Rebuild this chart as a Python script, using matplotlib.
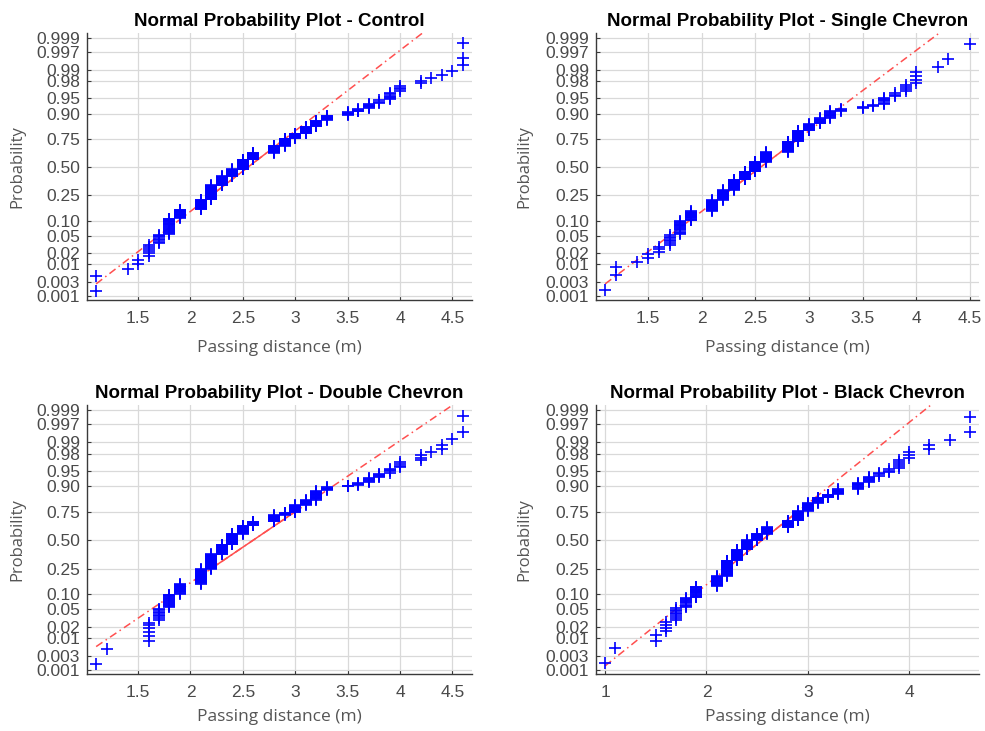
import numpy as np
import matplotlib
matplotlib.use('Agg')
import matplotlib.pyplot as plt
from statistics import NormalDist

# passing distances (m) and how many passes were recorded at each one
control_dist = [1.1, 1.4, 1.5, 1.6, 1.7, 1.8, 1.9, 2.1, 2.2, 2.3, 2.4, 2.5, 2.6, 2.8, 2.9,
                3.0, 3.1, 3.2, 3.3, 3.5, 3.6, 3.7, 3.8, 3.9, 4.0, 4.2, 4.3, 4.4, 4.5, 4.6]
control_count = [2, 1, 2, 6, 7, 19, 15, 21, 38, 27, 22, 31, 21, 20, 20,
                 12, 15, 11, 8, 5, 4, 6, 3, 6, 4, 2, 1, 1, 1, 3]

single_dist = [1.1, 1.2, 1.4, 1.5, 1.6, 1.7, 1.8, 1.9, 2.1, 2.2, 2.3, 2.4, 2.5, 2.6, 2.8,
               2.9, 3.0, 3.1, 3.2, 3.3, 3.5, 3.6, 3.7, 3.8, 3.9, 4.0, 4.2, 4.3, 4.5]
single_count = [1, 2, 1, 2, 3, 7, 14, 14, 21, 23, 27, 23, 28, 27, 27,
                24, 12, 9, 9, 3, 2, 2, 6, 3, 4, 4, 1, 1, 1]

double_dist = [1.1, 1.2, 1.6, 1.7, 1.8, 1.9, 2.1, 2.2, 2.3, 2.4, 2.5, 2.6, 2.8, 2.9, 3.0,
               3.1, 3.2, 3.3, 3.5, 3.6, 3.7, 3.8, 3.9, 4.0, 4.2, 4.3, 4.4, 4.5, 4.6]
double_count = [1, 1, 6, 8, 14, 15, 29, 37, 27, 30, 23, 11, 16, 6, 16,
                10, 15, 5, 2, 3, 5, 4, 4, 4, 3, 1, 2, 1, 2]

black_dist = [1.0, 1.1, 1.5, 1.6, 1.7, 1.8, 1.9, 2.1, 2.2, 2.3, 2.4, 2.5, 2.6, 2.8, 2.9,
              3.0, 3.1, 3.2, 3.3, 3.5, 3.6, 3.7, 3.8, 3.9, 4.0, 4.2, 4.4, 4.6]
black_count = [1, 1, 2, 4, 8, 9, 15, 18, 35, 28, 26, 18, 18, 17, 23,
               16, 10, 5, 8, 8, 6, 3, 3, 5, 3, 2, 1, 2]

titles = ['Control', 'Single Chevron', 'Double Chevron', 'Black Chevron']
prob_ticks = [0.001, 0.003, 0.01, 0.02, 0.05, 0.10, 0.25, 0.50,
              0.75, 0.90, 0.95, 0.98, 0.99, 0.997, 0.999]
prob_labels = ['0.001', '0.003', '0.01', '0.02', '0.05', '0.10', '0.25', '0.50',
               '0.75', '0.90', '0.95', '0.98', '0.99', '0.997', '0.999']

ND = NormalDist()
RED = '#ff4f4f'
GREY = '#4a4a4a'


def prob_to_z(p):
    p = np.clip(np.asarray(p, dtype=float), 1e-12, 1 - 1e-12)
    return np.array([ND.inv_cdf(v) for v in p.ravel()]).reshape(p.shape)


def z_to_prob(z):
    z = np.asarray(z, dtype=float)
    return np.array([ND.cdf(v) for v in z.ravel()]).reshape(z.shape)


def normplot(ax, dist, count, title, xticks):
    x = np.sort(np.repeat(dist, count))
    n = len(x)
    p = (np.arange(1, n + 1) - 0.5) / n
    ax.set_yscale('function', functions=(prob_to_z, z_to_prob))

    # reference line through the quartiles, extended over the data range
    q1, q3 = np.percentile(x, [25, 75], method='hazen')
    z1, z3 = prob_to_z([0.25, 0.75])
    slope = (z3 - z1) / (q3 - q1)
    xe = np.array([x.min(), x.max()])
    pe = z_to_prob(z1 + slope * (xe - q1))
    ax.plot(xe, pe, color=RED, lw=1.1, ls=(0, (5, 2.5, 1, 2.5)), zorder=2)
    ax.plot([q1, q3], [0.25, 0.75], color=RED, lw=1.1, zorder=2)

    ax.plot(x, p, '+', color='#0000ff', ms=8.5, mew=1.2, zorder=3)

    rng = x.max() - x.min()
    ax.set_xlim(x.min() - 0.025 * rng, x.max() + 0.025 * rng)
    ax.set_ylim(z_to_prob(-3.18), z_to_prob(3.21))
    ax.set_yticks(prob_ticks, labels=prob_labels)
    ax.set_xticks(xticks, labels=[f'{v:g}' for v in xticks])
    ax.minorticks_off()

    ax.grid(True, color='#d9d9d9', lw=0.9)
    ax.set_axisbelow(True)
    for s in ['top', 'right']:
        ax.spines[s].set_visible(False)
    for s in ['left', 'bottom']:
        ax.spines[s].set_color('#3a3a3a')
        ax.spines[s].set_linewidth(1.0)
    ax.tick_params(direction='in', length=3, width=0.8, color='#3a3a3a',
                   labelcolor=GREY, labelsize=12.5)
    ax.tick_params(axis='x', pad=8)
    ax.tick_params(axis='y', pad=5)
    for lab in ax.get_xticklabels() + ax.get_yticklabels():
        lab.set_family('Liberation Sans')

    ax.set_title('Normal Probability Plot - ' + title, fontsize=13.5,
                 fontweight='bold', family='Liberation Sans', pad=5)
    ax.set_xlabel('Passing distance (m)', fontsize=12.5, color='#555555',
                  family='Open Sans')
    ax.set_ylabel('Probability', fontsize=12, color='#555555',
                  family='Open Sans')


fig = plt.figure(figsize=(9.85, 7.31), dpi=100)
ax1 = fig.add_axes([0.0883, 0.5896, 0.3909, 0.3653])
ax2 = fig.add_axes([0.6051, 0.5896, 0.3888, 0.3653])
ax3 = fig.add_axes([0.0883, 0.0780, 0.3909, 0.3680])
ax4 = fig.add_axes([0.6051, 0.0780, 0.3888, 0.3680])

half_ticks = [1.5, 2, 2.5, 3, 3.5, 4, 4.5]
normplot(ax1, control_dist, control_count, titles[0], half_ticks)
normplot(ax2, single_dist, single_count, titles[1], half_ticks)
normplot(ax3, double_dist, double_count, titles[2], half_ticks)
normplot(ax4, black_dist, black_count, titles[3], [1, 2, 3, 4])

for ax in [ax1, ax2]:
    ax.xaxis.set_label_coords(0.5, -0.15)
for ax in [ax3, ax4]:
    ax.xaxis.set_label_coords(0.5, -0.13)
ax1.yaxis.set_label_coords(-0.16, 0.5)
ax3.yaxis.set_label_coords(-0.16, 0.5)
ax2.yaxis.set_label_coords(-0.165, 0.5)
ax4.yaxis.set_label_coords(-0.165, 0.5)

fig.savefig('out.png', dpi=100)
